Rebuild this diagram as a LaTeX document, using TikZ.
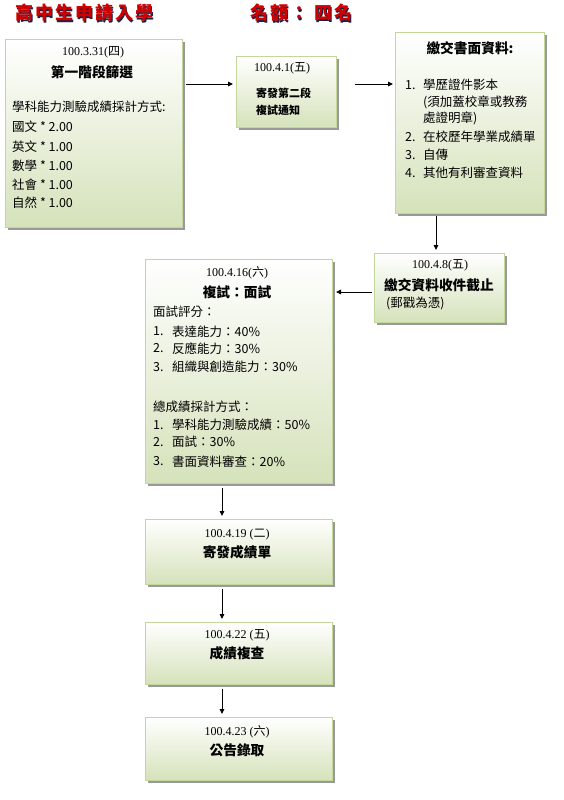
\documentclass[tikz,border=0pt]{standalone}
\usepackage{fontspec}
\setmainfont{Liberation Serif}
\newfontfamily\cjk{Noto Sans CJK TC}
\newfontfamily\titlefont[LetterSpace=11]{Noto Sans CJK TC}
\usetikzlibrary{shadows,arrows.meta}
\definecolor{bordergreen}{HTML}{C3D69B}
\definecolor{fillgreen}{HTML}{D5E2BA}
\definecolor{titlered}{HTML}{D00000}
\definecolor{titleshadow}{HTML}{202040}
\newcommand\dt[2]{#1({\cjk #2})}
\tikzset{
  box/.style={draw=bordergreen, line width=1pt, top color=white, bottom color=fillgreen,
    anchor=north west, inner sep=0pt,
    drop shadow={shadow xshift=2.5pt, shadow yshift=-2.5pt, fill=black!40, opacity=1}},
  date/.style={font=\fontsize{12}{14}\selectfont, inner sep=0pt},
  head/.style={font=\cjk\bfseries\fontsize{13.7}{16}\selectfont, inner sep=0pt},
  headsmall/.style={font=\cjk\bfseries\fontsize{11}{13}\selectfont, inner sep=0pt, anchor=west},
  body/.style={font=\cjk\fontsize{12.5}{15}\selectfont, inner sep=0pt, anchor=west},
  ttl/.style={font=\titlefont\bfseries\fontsize{18}{20}\selectfont, inner sep=0pt, anchor=west},
  arr/.style={line width=0.9pt, -{Triangle[length=5pt,width=4.5pt]}}
}
\begin{document}
\begin{tikzpicture}[x=1pt,y=-1pt]
\useasboundingbox (0,0) rectangle (564,800);
% title
\node[ttl, text=titleshadow] (t1s) at (16.3,14.3) {高中生申請入學};
\node[ttl, text=titlered] (t1) at (15,13) {高中生申請入學};
\node[ttl, text=titleshadow] (t2s) at (251.3,14.3) {名額：\hspace{6pt}四名};
\node[ttl, text=titlered] (t2) at (250,13) {名額：\hspace{6pt}四名};

% boxes
\node[box, minimum width=177pt, minimum height=188pt] (a) at (5,39) {};
\node[box, minimum width=100pt, minimum height=71pt] (b) at (236,56) {};
\node[box, minimum width=149pt, minimum height=181pt] (c) at (395,32) {};
\node[box, minimum width=130pt, minimum height=69pt] (d) at (374,253) {};
\node[box, minimum width=187pt, minimum height=224pt] (e) at (145,259) {};
\node[box, minimum width=187pt, minimum height=65pt] (f) at (145,519) {};
\node[box, minimum width=187pt, minimum height=62pt] (g) at (145,622) {};
\node[box, minimum width=187pt, minimum height=63pt] (h) at (145,717) {};

% box a text
\node[date] (a1) at (93,52) {\dt{100.3.31}{四}};
\node[head] (a2) at (92,72) {第一階段篩選};
\node[body] (a3) at (12,107) {學科能力測驗成績採計方式:};
\node[body] (a4) at (12,127) {國文 * 2.00};
\node[body] (a5) at (12,147) {英文 * 1.00};
\node[body] (a6) at (12,166) {數學 * 1.00};
\node[body] (a7) at (12,185) {社會 * 1.00};
\node[body] (a8) at (12,203) {自然 * 1.00};

% box b text
\node[date, anchor=west] (b1) at (254,68) {\dt{100.4.1}{五}};
\node[headsmall] (b2) at (256,93) {寄發第二段};
\node[headsmall] (b3) at (256,110) {複試通知};

% box c text
\node[head] (c1) at (470,48) {繳交書面資料:};
\node[body] (c2n) at (405,85) {1.};
\node[body] (c2) at (423,85) {學歷證件影本};
\node[body] (c3) at (423,102) {(須加蓋校章或教務};
\node[body] (c4) at (423,118) {處證明章)};
\node[body] (c5n) at (405,137) {2.};
\node[body] (c5) at (423,137) {在校歷年學業成績單};
\node[body] (c6n) at (405,155) {3.};
\node[body] (c6) at (423,155) {自傳};
\node[body] (c7n) at (405,173) {4.};
\node[body] (c7) at (423,173) {其他有利審查資料};

% box d text
\node[date] (d1) at (440,265) {\dt{100.4.8}{五}};
\node[head, anchor=west] (d2) at (384,285) {繳交資料收件截止};
\node[body] (d3) at (386,303) {(郵戳為憑)};

% box e text
\node[date] (e1) at (237,273) {\dt{100.4.16}{六}};
\node[head] (e2) at (237,292) {複試：面試};
\node[body] (e3) at (153,312) {面試評分：};
\node[body] (e4n) at (153,331.5) {1.};
\node[body] (e4) at (172,331.5) {表達能力：40\%};
\node[body] (e5n) at (153,348.5) {2.};
\node[body] (e5) at (172,348.5) {反應能力：30\%};
\node[body] (e6n) at (153,367) {3.};
\node[body] (e6) at (172,367) {組織與創造能力：30\%};
\node[body] (e7) at (153,406.5) {總成績採計方式：};
\node[body] (e8n) at (153,425) {1.};
\node[body] (e8) at (172,425) {學科能力測驗成績：50\%};
\node[body] (e9n) at (153,442) {2.};
\node[body] (e9) at (172,442) {面試：30\%};
\node[body] (e10n) at (153,461.5) {3.};
\node[body] (e10) at (172,461.5) {書面資料審查：20\%};

% box f,g,h text
\node[date] (f1) at (237,535) {\dt{100.4.19 }{二}};
\node[head] (f2) at (237,552) {寄發成績單};
\node[date] (g1) at (237,635) {\dt{100.4.22 }{五}};
\node[head] (g2) at (237,653) {成績複查};
\node[date] (h1) at (237,732) {\dt{100.4.23 }{六}};
\node[head] (h2) at (237,750) {公告錄取};

% connectors
\coordinate (yrow) at (0,84);
\coordinate (abS) at (186,84);
\coordinate (bcS) at (355,84);
\draw[arr] (abS) -- ([xshift=-3pt]b.west |- yrow);
\draw[arr] (bcS) -- ([xshift=-2pt]c.west |- yrow);
\draw[arr] ([yshift=-2pt]c.south -| 436,0) -- ([yshift=3pt]d.north -| 436,0);
\coordinate (yde) at (0,292);
\draw[arr] ([xshift=-2pt]d.west |- yde) -- ([xshift=3pt]e.east |- yde);
\draw[arr] ([yshift=-4pt]e.south -| 222,0) -- ([yshift=3pt]f.north -| 222,0);
\draw[arr] ([yshift=-4pt]f.south -| 222,0) -- ([yshift=3pt]g.north -| 222,0);
\draw[arr] ([yshift=-4pt]g.south -| 222,0) -- ([yshift=3pt]h.north -| 222,0);
\end{tikzpicture}
\end{document}
